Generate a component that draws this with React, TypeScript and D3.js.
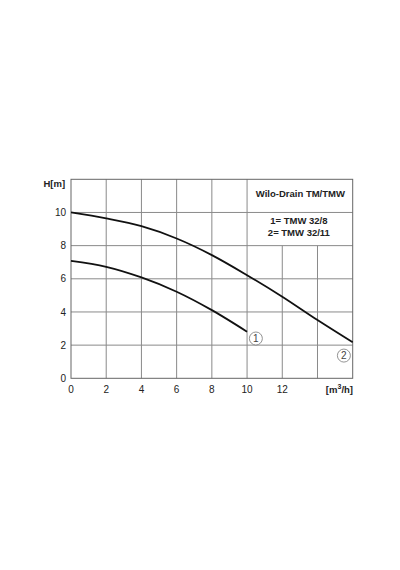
import { useEffect, useRef } from "react"
import * as d3 from "d3"

// flow Q [m3/h] against head H [m]
const flowTM32_8 = [0, 2, 4, 6, 8, 10]
const headTM32_8 = [7.08, 6.72, 6.08, 5.22, 4.11, 2.81]

const flowTM32_11 = [0, 2, 4, 6, 8, 10, 12, 14, 16]
const headTM32_11 = [10.0, 9.64, 9.17, 8.43, 7.43, 6.22, 4.92, 3.51, 2.17]

const xTicks = [0, 2, 4, 6, 8, 10, 12]
const yTicks = [0, 2, 4, 6, 8, 10]
const xGrid = [2, 4, 6, 8, 10, 12, 14]
const yGrid = [2, 4, 6, 8, 10]

const title = "Wilo-Drain TM/TMW"
const legendLines = ["1= TMW 32/8", "2= TMW 32/11"]

const font = "'Liberation Sans', Arial, Helvetica, sans-serif"

export default function App() {
  const svgRef = useRef<SVGSVGElement>(null)

  useEffect(() => {
    if (!svgRef.current) return
    const svg = d3.select(svgRef.current)
    svg.selectAll("*").remove()

    const x = d3.scaleLinear().domain([0, 16]).range([71, 352.7])
    const y = d3.scaleLinear().domain([0, 12]).range([378.3, 179.3])

    const grid = svg.append("g").attr("stroke", "#8a8a8a").attr("stroke-width", 1)

    // vertical grid; the legend box sits in the top-right corner, so 12 and 14 stop at 8 m
    xGrid.forEach((q) => {
      grid
        .append("line")
        .attr("x1", x(q))
        .attr("x2", x(q))
        .attr("y1", y(0))
        .attr("y2", q > 10 ? y(8) : y(12))
    })

    yGrid.forEach((h) => {
      grid
        .append("line")
        .attr("x1", x(0))
        .attr("x2", x(16))
        .attr("y1", y(h))
        .attr("y2", y(h))
    })

    // frame
    svg
      .append("rect")
      .attr("x", x(0))
      .attr("y", y(12))
      .attr("width", x(16) - x(0))
      .attr("height", y(0) - y(12))
      .attr("fill", "none")
      .attr("stroke", "#666")
      .attr("stroke-width", 1)

    // curves
    const line = d3
      .line<[number, number]>()
      .x((d) => x(d[0]))
      .y((d) => y(d[1]))
      .curve(d3.curveMonotoneX)

    const series = [
      flowTM32_8.map((q, i) => [q, headTM32_8[i]] as [number, number]),
      flowTM32_11.map((q, i) => [q, headTM32_11[i]] as [number, number]),
    ]

    series.forEach((pts) => {
      svg
        .append("path")
        .attr("d", line(pts))
        .attr("fill", "none")
        .attr("stroke", "#111")
        .attr("stroke-width", 1.8)
    })

    // circled curve numbers
    const marks = [
      { q: 10.5, h: 2.4, label: "1" },
      { q: 15.5, h: 1.37, label: "2" },
    ]
    marks.forEach((m) => {
      const g = svg.append("g").attr("transform", `translate(${x(m.q)}, ${y(m.h)})`)
      g.append("circle").attr("r", 6.5).attr("fill", "white").attr("stroke", "#777").attr("stroke-width", 0.8)
      g.append("text")
        .attr("text-anchor", "middle")
        .attr("y", 3.6)
        .attr("font-family", font)
        .attr("font-size", 10)
        .attr("fill", "#444")
        .text(m.label)
    })

    // y tick labels
    svg
      .append("g")
      .selectAll("text")
      .data(yTicks)
      .enter()
      .append("text")
      .attr("x", 66)
      .attr("y", (d) => y(d) + 3.6)
      .attr("text-anchor", "end")
      .attr("font-family", font)
      .attr("font-size", 10)
      .attr("fill", "#222")
      .text((d) => d)

    // x tick labels
    svg
      .append("g")
      .selectAll("text")
      .data(xTicks)
      .enter()
      .append("text")
      .attr("x", (d) => x(d))
      .attr("y", 392.5)
      .attr("text-anchor", "middle")
      .attr("font-family", font)
      .attr("font-size", 10)
      .attr("fill", "#222")
      .text((d) => d)

    svg
      .append("text")
      .attr("x", 43.5)
      .attr("y", 186.5)
      .attr("font-family", font)
      .attr("font-size", 9.5)
      .attr("font-weight", "bold")
      .attr("fill", "#222")
      .text("H[m]")

    const unit = svg
      .append("text")
      .attr("x", 353)
      .attr("y", 392.5)
      .attr("text-anchor", "end")
      .attr("font-family", font)
      .attr("font-size", 9.5)
      .attr("font-weight", "bold")
      .attr("fill", "#222")
    unit.append("tspan").text("[m")
    unit.append("tspan").attr("dy", -3.5).attr("font-size", 7).text("3")
    unit.append("tspan").attr("dy", 3.5).text("/h]")

    // legend box contents
    const cx = x(13)
    svg
      .append("text")
      .attr("x", cx + 0.5)
      .attr("y", 197.3)
      .attr("text-anchor", "middle")
      .attr("font-family", font)
      .attr("font-size", 9.5)
      .attr("font-weight", "bold")
      .attr("fill", "#222")
      .text(title)

    legendLines.forEach((t, i) => {
      svg
        .append("text")
        .attr("x", cx - 1)
        .attr("y", 224 + i * 12)
        .attr("text-anchor", "middle")
        .attr("font-family", font)
        .attr("font-size", 9.5)
        .attr("font-weight", "bold")
        .attr("fill", "#222")
        .text(t)
    })
  }, [])

  return (
    <div style={{ position: "fixed", left: 0, top: 0, width: 400, height: 570, background: "white" }}>
      <svg ref={svgRef} width={400} height={570} />
    </div>
  )
}
